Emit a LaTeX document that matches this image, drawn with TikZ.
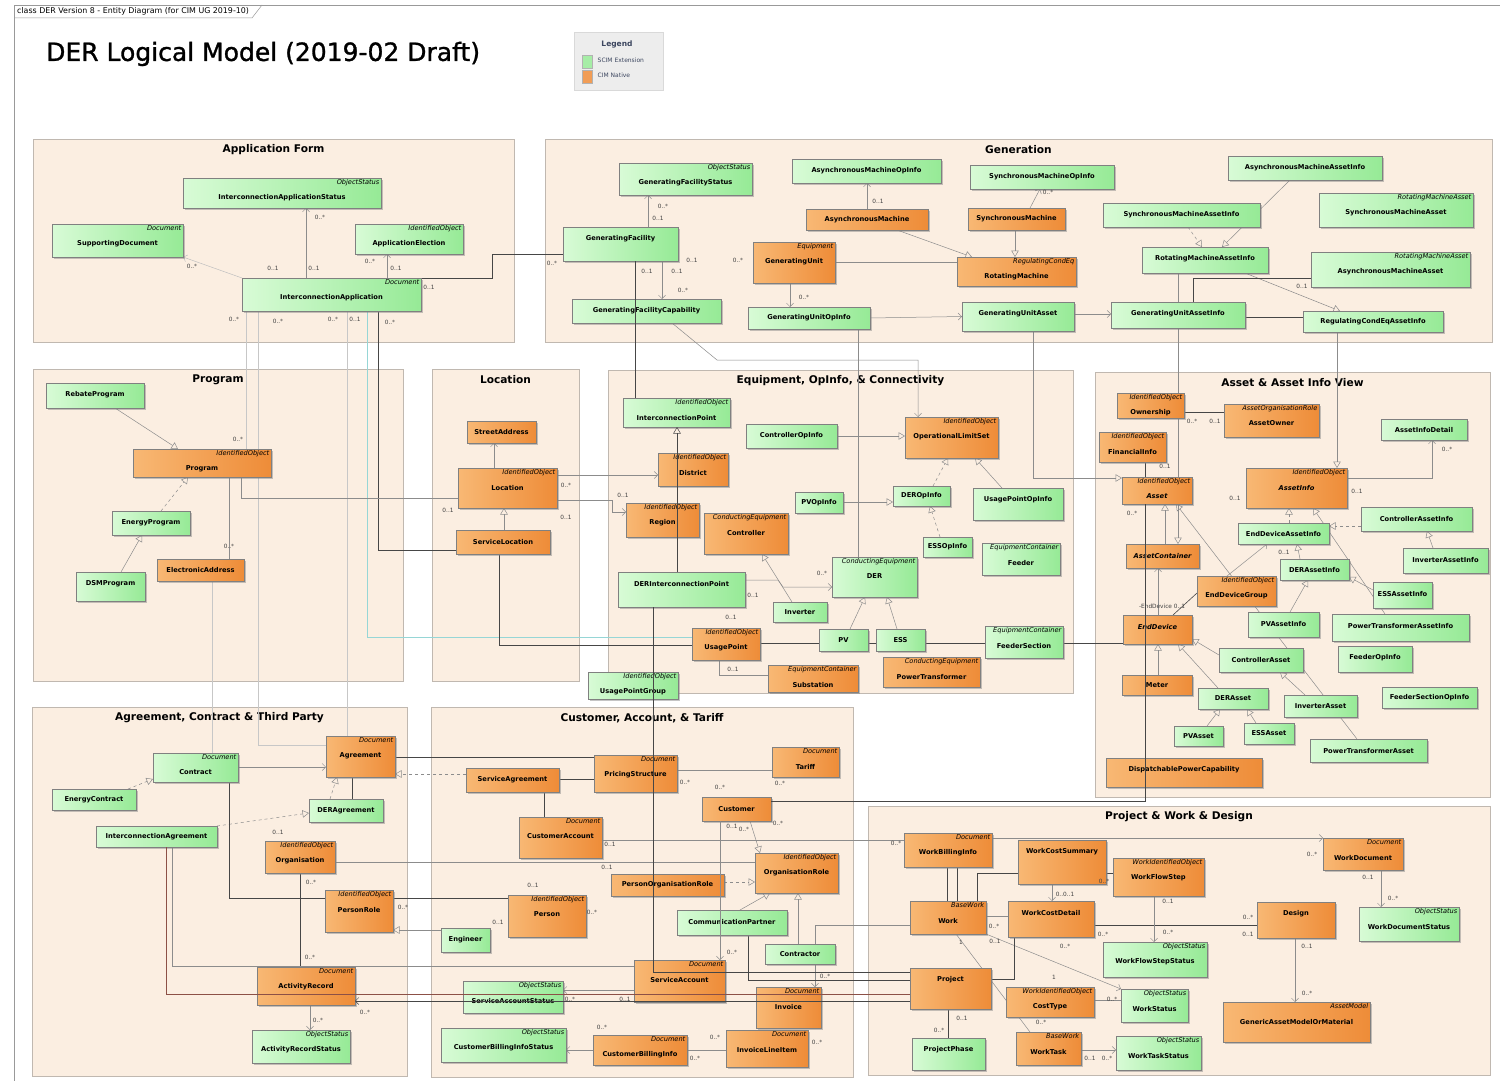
\documentclass[tikz,border=0pt]{standalone}
\usepackage{fontspec}
\setmainfont{DejaVu Sans}
\newfontfamily\heavytitle[FakeBold=1.2]{DejaVu Sans}
\usetikzlibrary{arrows.meta,shadows}
\pgfdeclarelayer{bg}\pgfdeclarelayer{wires}\pgfdeclarelayer{front}
\pgfsetlayers{bg,wires,main,front}

\definecolor{pkgfill}{RGB}{251,238,225}
\definecolor{pkgline}{RGB}{192,184,176}
\definecolor{gL}{RGB}{216,251,214}
\definecolor{gR}{RGB}{150,234,150}
\definecolor{oL}{RGB}{248,184,116}
\definecolor{oR}{RGB}{238,140,56}
\definecolor{wiregray}{RGB}{140,140,140}
\definecolor{wiredark}{RGB}{70,70,70}
\definecolor{wirecyan}{RGB}{150,214,214}
\definecolor{wirebrown}{RGB}{140,80,70}
\definecolor{legtext}{RGB}{60,70,95}

\tikzset{
  pkg/.style={draw=pkgline, fill=pkgfill, line width=0.6pt, inner sep=0pt, outer sep=0pt},
  pkgt/.style={font=\fontsize{10.6}{12}\selectfont\bfseries, inner sep=0pt},
  clsbox/.style={draw=black!50, line width=0.4pt, inner sep=0pt, outer sep=0pt,
    drop shadow={shadow xshift=1.6pt, shadow yshift=-1.6pt, opacity=0.45}},
  gcls/.style={clsbox, left color=gL, right color=gR},
  ocls/.style={clsbox, left color=oL, right color=oR},
  ntxt/.style={font=\fontsize{6.7}{8}\selectfont\bfseries, inner sep=0pt},
  ptxt/.style={font=\fontsize{6.6}{7}\selectfont\itshape, inner sep=0.5pt, anchor=north east},
  mlab/.style={font=\fontsize{5.8}{7}\selectfont, text=black!75, inner sep=0pt},
  cn/.style={draw=wiregray, line width=0.5pt},
  dk/.style={draw=wiredark, line width=0.6pt},
  faint/.style={draw=black!22, line width=0.5pt},
  cyw/.style={draw=wirecyan, line width=0.8pt},
  brw/.style={draw=wirebrown, line width=0.6pt},
  genl/.style={cn, -{Triangle[open, length=6.5pt, width=7.5pt]}},
  realz/.style={genl, dashed},
  navg/.style={cn, -{Straight Barb[length=3.5pt, width=7pt]}},
}

% class box: name, style, x1, y1, x2, y2, stereotype parent, class name
\newcommand\umlcls[8]{%
  \pgfmathsetmacro\umlcx{((#3)+(#5))/2}%
  \pgfmathsetmacro\umlcy{((#4)+(#6))/2}%
  \node[#2, minimum width={(#5)-(#3)}, minimum height={(#6)-(#4)}] (#1) at (\umlcx,\umlcy) {};
  \if\relax\detokenize{#7}\relax
    \pgfmathsetmacro\umlny{min(\umlcy,(#4)+12)}%
  \else
    \pgfmathsetmacro\umlny{(#4)+19.5}%
    \node[ptxt] (#1-p) at ([xshift=-1pt,yshift=-1pt]#1.north east) {#7};
  \fi
  \node[ntxt] (#1-n) at (\umlcx,\umlny) {#8};
}
% package frame: name, x1, y1, x2, y2, title
\newcommand\umlpkg[6]{%
  \node[pkg, minimum width={(#4)-(#2)}, minimum height={(#5)-(#3)}, anchor=north west] (#1) at (#2,#3) {};
  \node[pkgt] (#1-t) at ({((#2)+(#4))/2},{(#3)+11}) {#6};
}

\begin{document}
\begin{tikzpicture}[x=1pt,y=-1pt]
\begin{pgfonlayer}{bg}
  \fill[white] (0,0) rectangle (1504,1081);
  \useasboundingbox (0,0) rectangle (1504,1081);
  % diagram frame and tab
  \draw[black!40, line width=0.5pt] (14,1081) -- (14,5) -- (1500,5);
  \draw[black!40, line width=0.5pt] (14,18) -- (252,18) -- (262,5);
  \umlpkg{pApp}{33}{139}{514}{342}{Application Form}
  \umlpkg{pGen}{545}{139}{1492}{342}{Generation}
  \umlpkg{pProg}{33}{369}{403}{681}{Program}
  \umlpkg{pLoc}{432}{369}{579}{681}{Location}
  \umlpkg{pEq}{608}{370}{1073}{693}{Equipment, OpInfo, \& Connectivity}
  \umlpkg{pAst}{1095}{372}{1490}{797}{Asset \& Asset Info View}
  \umlpkg{pAgr}{32}{707}{407}{1076}{Agreement, Contract \& Third Party}
  \umlpkg{pCus}{431}{707}{853}{1077}{Customer, Account, \& Tariff}
  \umlpkg{pPrj}{868}{806}{1490}{1075}{Project \& Work \& Design}
\end{pgfonlayer}

\node[font=\fontsize{7.9}{9}\selectfont, anchor=west, inner sep=0pt] (tabtxt) at (17,11.5) {class DER Version 8 - Entity Diagram (for CIM UG 2019-10)};
\node[font=\heavytitle\fontsize{25}{30}\selectfont, anchor=west, inner sep=0pt] (title) at (46,54) {DER Logical Model (2019-02 Draft)};

% legend
\node[draw=black!15, fill=black!7, minimum width=89, minimum height=58, anchor=north west, inner sep=0pt] (leg) at (574,32) {};
\node[font=\fontsize{7.5}{8}\selectfont\bfseries, text=legtext, inner sep=0pt] (legT) at (617,44) {Legend};
\node[draw=black!30, fill=gR!85, minimum width=10pt, minimum height=13pt, inner sep=0pt] (legG) at (587,61.5) {};
\node[font=\fontsize{6}{7}\selectfont, anchor=west, text=legtext, inner sep=0pt] (legGt) at (597.5,60.5) {SCIM Extension};
\node[draw=black!30, fill=oR!85, minimum width=10pt, minimum height=13pt, inner sep=0pt] (legO) at (587,77) {};
\node[font=\fontsize{6}{7}\selectfont, anchor=west, text=legtext, inner sep=0pt] (legOt) at (597.5,75) {CIM Native};

% ---------- Application Form
\umlcls{IAS}{gcls}{183}{178}{381}{208}{ObjectStatus}{InterconnectionApplicationStatus}
\umlcls{SD}{gcls}{52}{224}{183}{257}{Document}{SupportingDocument}
\umlcls{AE}{gcls}{355}{224}{463}{254}{IdentifiedObject}{ApplicationElection}
\umlcls{IA}{gcls}{242}{278}{421}{311}{Document}{InterconnectionApplication}

% ---------- Generation
\umlcls{GFS}{gcls}{619}{163}{752}{195}{ObjectStatus}{GeneratingFacilityStatus}
\umlcls{AMOI}{gcls}{792}{159}{941}{183}{}{AsynchronousMachineOpInfo}
\umlcls{GF}{gcls}{563}{227}{678}{261}{}{GeneratingFacility}
\umlcls{AM}{ocls}{806}{209}{928}{230}{}{AsynchronousMachine}
\umlcls{GU}{ocls}{753}{242}{835}{283}{Equipment}{GeneratingUnit}
\umlcls{GFC}{gcls}{572}{299}{721}{323}{}{GeneratingFacilityCapability}
\umlcls{GUOI}{gcls}{748}{307}{870}{329}{}{GeneratingUnitOpInfo}
\umlcls{SMOI}{gcls}{970}{165}{1114}{189}{}{SynchronousMachineOpInfo}
\umlcls{SM}{ocls}{968}{208}{1065}{230}{}{SynchronousMachine}
\umlcls{RM}{ocls}{957}{257}{1076}{286}{RegulatingCondEq}{RotatingMachine}
\umlcls{GUA}{gcls}{962}{302}{1074}{331}{}{GeneratingUnitAsset}
\umlcls{SMAI}{gcls}{1103}{203}{1260}{227}{}{SynchronousMachineAssetInfo}
\umlcls{AMAI}{gcls}{1228}{156}{1382}{180}{}{AsynchronousMachineAssetInfo}
\umlcls{SMA}{gcls}{1319}{193}{1473}{227}{RotatingMachineAsset}{SynchronousMachineAsset}
\umlcls{RMAI}{gcls}{1142}{247}{1268}{273}{}{RotatingMachineAssetInfo}
\umlcls{AMA}{gcls}{1311}{252}{1470}{287}{RotatingMachineAsset}{AsynchronousMachineAsset}
\umlcls{GUAI}{gcls}{1111}{302}{1245}{328}{}{GeneratingUnitAssetInfo}
\umlcls{RCEAI}{gcls}{1303}{311}{1443}{332}{}{RegulatingCondEqAssetInfo}

% ---------- Program
\umlcls{RP}{gcls}{46}{383}{144}{408}{}{RebateProgram}
\umlcls{Prog}{ocls}{133}{449}{271}{477}{IdentifiedObject}{Program}
\umlcls{EP}{gcls}{112}{511}{190}{535}{}{EnergyProgram}
\umlcls{DSM}{gcls}{76}{572}{145}{601}{}{DSMProgram}
\umlcls{EA}{ocls}{157}{559}{244}{581}{}{ElectronicAddress}

% ---------- Location
\umlcls{StrA}{ocls}{467}{421}{536}{443}{}{StreetAddress}
\umlcls{Loc}{ocls}{458}{468}{557}{508}{IdentifiedObject}{Location}
\umlcls{SL}{ocls}{456}{530}{550}{554}{}{ServiceLocation}

% ---------- Equipment, OpInfo, & Connectivity
\umlcls{IP}{gcls}{623}{398}{730}{427}{IdentifiedObject}{InterconnectionPoint}
\umlcls{Dist}{ocls}{658}{453}{728}{486}{IdentifiedObject}{District}
\umlcls{Reg}{ocls}{626}{503}{699}{537}{IdentifiedObject}{Region}
\umlcls{Ctrl}{ocls}{704}{513}{788}{554}{ConductingEquipment}{Controller}
\umlcls{CtrlOI}{gcls}{746}{424}{837}{448}{}{ControllerOpInfo}
\umlcls{OLS}{ocls}{905}{417}{998}{458}{IdentifiedObject}{OperationalLimitSet}
\umlcls{PVOI}{gcls}{795}{492}{843}{513}{}{PVOpInfo}
\umlcls{DEROI}{gcls}{893}{486}{950}{506}{}{DEROpInfo}
\umlcls{UPOI}{gcls}{973}{488}{1063}{520}{}{UsagePointOpInfo}
\umlcls{ESSOI}{gcls}{923}{537}{972}{557}{}{ESSOpInfo}
\umlcls{Feeder}{gcls}{982}{543}{1060}{575}{EquipmentContainer}{Feeder}
\umlcls{DERIP}{gcls}{618}{572}{745}{607}{}{DERInterconnectionPoint}
\umlcls{DER}{gcls}{832}{557}{917}{597}{ConductingEquipment}{DER}
\umlcls{Inv}{gcls}{773}{602}{827}{622}{}{Inverter}
\umlcls{PV}{gcls}{819}{629}{868}{651}{}{PV}
\umlcls{ESS}{gcls}{876}{629}{925}{651}{}{ESS}
\umlcls{UP}{ocls}{692}{628}{760}{660}{IdentifiedObject}{UsagePoint}
\umlcls{FS}{gcls}{985}{626}{1063}{658}{EquipmentContainer}{FeederSection}
\umlcls{PT}{ocls}{883}{657}{980}{687}{ConductingEquipment}{PowerTransformer}
\umlcls{Sub}{ocls}{768}{665}{858}{692}{EquipmentContainer}{Substation}
\umlcls{UPG}{gcls}{588}{672}{678}{699}{IdentifiedObject}{UsagePointGroup}

% ---------- Asset & Asset Info View
\umlcls{Own}{ocls}{1117}{393}{1184}{418}{IdentifiedObject}{Ownership}
\umlcls{AO}{ocls}{1224}{404}{1319}{437}{AssetOrganisationRole}{AssetOwner}
\umlcls{FI}{ocls}{1099}{432}{1166}{462}{IdentifiedObject}{FinancialInfo}
\umlcls{Asset}{ocls}{1122}{477}{1192}{504}{IdentifiedObject}{\itshape Asset}
\umlcls{AI}{ocls}{1246}{468}{1347}{508}{IdentifiedObject}{\itshape AssetInfo}
\umlcls{AID}{gcls}{1381}{419}{1467}{440}{}{AssetInfoDetail}
\umlcls{AC}{ocls}{1126}{544}{1199}{568}{}{\itshape AssetContainer}
\umlcls{EDAI}{gcls}{1238}{523}{1329}{544}{}{EndDeviceAssetInfo}
\umlcls{CAI}{gcls}{1361}{507}{1472}{531}{}{ControllerAssetInfo}
\umlcls{IAI}{gcls}{1403}{548}{1488}{573}{}{InverterAssetInfo}
\umlcls{DERAI}{gcls}{1280}{559}{1349}{580}{}{DERAssetInfo}
\umlcls{EDG}{ocls}{1197}{576}{1276}{606}{IdentifiedObject}{EndDeviceGroup}
\umlcls{ESSAI}{gcls}{1373}{582}{1432}{608}{}{ESSAssetInfo}
\umlcls{ED}{ocls}{1123}{615}{1192}{644}{}{\itshape EndDevice}
\umlcls{PVAI}{gcls}{1248}{612}{1319}{637}{}{PVAssetInfo}
\umlcls{PTAI}{gcls}{1332}{614}{1469}{641}{}{PowerTransformerAssetInfo}
\umlcls{CtA}{gcls}{1219}{648}{1303}{672}{}{ControllerAsset}
\umlcls{FOI}{gcls}{1338}{646}{1412}{672}{}{FeederOpInfo}
\umlcls{Meter}{ocls}{1122}{675}{1192}{695}{}{Meter}
\umlcls{DERAs}{gcls}{1198}{688}{1268}{709}{}{DERAsset}
\umlcls{InvA}{gcls}{1284}{695}{1357}{717}{}{InverterAsset}
\umlcls{FSOI}{gcls}{1382}{687}{1477}{708}{}{FeederSectionOpInfo}
\umlcls{PVA}{gcls}{1174}{726}{1223}{746}{}{PVAsset}
\umlcls{ESSA}{gcls}{1244}{723}{1294}{744}{}{ESSAsset}
\umlcls{PTA}{gcls}{1310}{739}{1427}{762}{}{PowerTransformerAsset}
\umlcls{DPC}{ocls}{1106}{758}{1262}{787}{}{DispatchablePowerCapability}

% ---------- Agreement, Contract & Third Party
\umlcls{Contract}{gcls}{153}{753}{238}{782}{Document}{Contract}
\umlcls{EC}{gcls}{52}{789}{136}{810}{}{EnergyContract}
\umlcls{Agr}{ocls}{326}{736}{395}{777}{Document}{Agreement}
\umlcls{DERA}{gcls}{309}{799}{383}{822}{}{DERAgreement}
\umlcls{IAgr}{gcls}{96}{826}{217}{847}{}{InterconnectionAgreement}
\umlcls{Org}{ocls}{265}{841}{335}{873}{IdentifiedObject}{Organisation}
\umlcls{PR}{ocls}{325}{890}{393}{932}{IdentifiedObject}{PersonRole}
\umlcls{AR}{ocls}{257}{967}{355}{1005}{Document}{ActivityRecord}
\umlcls{ARS}{gcls}{252}{1030}{350}{1063}{ObjectStatus}{ActivityRecordStatus}

% ---------- Customer, Account, & Tariff
\umlcls{SAg}{ocls}{466}{768}{559}{792}{}{ServiceAgreement}
\umlcls{PS}{ocls}{594}{755}{677}{792}{Document}{PricingStructure}
\umlcls{Tar}{ocls}{772}{747}{839}{777}{Document}{Tariff}
\umlcls{Cust}{ocls}{702}{797}{771}{821}{}{Customer}
\umlcls{CA}{ocls}{519}{817}{602}{858}{Document}{CustomerAccount}
\umlcls{OrgR}{ocls}{755}{853}{838}{893}{IdentifiedObject}{OrganisationRole}
\umlcls{POR}{ocls}{611}{874}{724}{896}{}{PersonOrganisationRole}
\umlcls{Person}{ocls}{508}{895}{586}{937}{IdentifiedObject}{Person}
\umlcls{CP}{gcls}{677}{910}{787}{935}{}{CommunicationPartner}
\umlcls{Eng}{gcls}{441}{928}{490}{952}{}{Engineer}
\umlcls{Contr}{gcls}{765}{944}{835}{964}{}{Contractor}
\umlcls{SAcc}{ocls}{634}{960}{725}{1002}{Document}{ServiceAccount}
\umlcls{SAS}{gcls}{463}{981}{563}{1013}{ObjectStatus}{ServiceAccountStatus}
\umlcls{Invc}{ocls}{756}{987}{821}{1028}{Document}{Invoice}
\umlcls{CBIS}{gcls}{441}{1028}{566}{1062}{ObjectStatus}{CustomerBillingInfoStatus}
\umlcls{CBI}{ocls}{593}{1035}{687}{1065}{Document}{CustomerBillingInfo}
\umlcls{ILI}{ocls}{726}{1030}{808}{1067}{Document}{InvoiceLineItem}

% ---------- Project & Work & Design
\umlcls{WBI}{ocls}{904}{833}{992}{867}{Document}{WorkBillingInfo}
\umlcls{WCS}{ocls}{1018}{840}{1106}{884}{}{WorkCostSummary}
\umlcls{WFS}{ocls}{1113}{858}{1204}{896}{WorkIdentifiedObject}{WorkFlowStep}
\umlcls{WD}{ocls}{1323}{838}{1403}{870}{Document}{WorkDocument}
\umlcls{Work}{ocls}{910}{901}{986}{934}{BaseWork}{Work}
\umlcls{WCD}{ocls}{1008}{901}{1094}{937}{}{WorkCostDetail}
\umlcls{Des}{ocls}{1257}{902}{1335}{938}{}{Design}
\umlcls{WDS}{gcls}{1359}{907}{1459}{941}{ObjectStatus}{WorkDocumentStatus}
\umlcls{WFSS}{gcls}{1103}{942}{1207}{977}{ObjectStatus}{WorkFlowStepStatus}
\umlcls{Proj}{ocls}{910}{968}{991}{1009}{}{Project}
\umlcls{CT}{ocls}{1006}{987}{1094}{1017}{WorkIdentifiedObject}{CostType}
\umlcls{WS}{gcls}{1121}{989}{1188}{1022}{ObjectStatus}{WorkStatus}
\umlcls{GAMM}{ocls}{1223}{1002}{1370}{1042}{AssetModel}{GenericAssetModelOrMaterial}
\umlcls{PP}{gcls}{912}{1038}{985}{1070}{}{ProjectPhase}
\umlcls{WT}{ocls}{1016}{1032}{1081}{1065}{BaseWork}{WorkTask}
\umlcls{WTS}{gcls}{1116}{1036}{1201}{1070}{ObjectStatus}{WorkTaskStatus}

% ---------- connectors drawn behind the classes
\begin{pgfonlayer}{wires}
  % application form
  \draw[navg] (306,0 |- IA.north) -- (306,0 |- IAS.south);
  \draw[navg] (387,0 |- IA.north) -- (387,0 |- AE.south);
  \draw[navg, draw=black!25] (IA.north west) -- (SD.south east);
  \draw[dk] (IA.north east) -- (492,278) -- (492,254) -- (GF.west |- 0,254);
  \draw[faint] (246,0 |- IA.south) -- (246,0 |- Prog.north);
  \draw[faint] (258,0 |- IA.south) -- (258,745) -- (Agr.west |- 0,745);
  \draw[faint] (347,0 |- IA.south) -- (347,0 |- Agr.north);
  \draw[cyw] (367,0 |- IA.south) -- (367,637) -- (UP.west |- 0,637);
  \draw[dk] (378,0 |- IA.south) -- (378,550) -- (SL.west |- 0,550);
  % generation
  \draw[navg] (648,0 |- GF.north) -- (648,0 |- GFS.south);
  \draw[navg] (662,0 |- GF.south) -- (662,0 |- GFC.north);
  \draw[navg] (867,0 |- AM.north) -- (867,0 |- AMOI.south);
  \draw[navg] (790,0 |- GU.south) -- (790,0 |- GUOI.north);
  \draw[genl] (897,0 |- AM.south) -- (972,0 |- RM.north);
  \draw[cn] (GU.east) -- (RM.west |- GU.east);
  \draw[navg] (GUOI.east) -- (GUA.west);
  \draw[genl] (1015,0 |- SM.south) -- (1015,0 |- RM.north);
  \draw[navg] (1030,0 |- SM.north) -- (1040,0 |- SMOI.south);
  \draw[realz] (1188,0 |- SMAI.south) -- (1202,0 |- RMAI.north);
  \draw[genl] (1290,0 |- AMAI.south) -- (1222,0 |- RMAI.north);
  \draw[genl] (1245,0 |- RMAI.south) -- (1340,0 |- RCEAI.north);
  \draw[dk] (AMA.west |- 0,278) -- (1193,278) -- (1193,0 |- GUAI.north);
  \draw[dk] (GUAI.east |- 0,317) -- (RCEAI.west |- 0,317);
  \draw[navg] (GUA.east |- 0,314) -- (GUAI.west |- 0,314);
  \draw[navg] (672,0 |- GFC.south) -- (717,360) -- (918,360) -- (918,0 |- OLS.north);
  \draw[cn] (858,0 |- GUOI.south) -- (858,0 |- DER.north);
  \draw[genl] (1178,0 |- RMAI.south) -- (1178,0 |- AC.north);
  \draw[genl] (1337,0 |- RCEAI.south) -- (1337,0 |- AI.north);
  \draw[genl] (1033,0 |- GUA.south) -- (1033,478) -- (Asset.west |- 0,478);
  % program and location
  \draw[genl] (115,0 |- RP.south) -- (178,0 |- Prog.north);
  \draw[realz] (161,0 |- EP.north) -- (188,0 |- Prog.south);
  \draw[genl] (121,0 |- DSM.north) -- (142,0 |- EP.south);
  \draw[cn] (229,0 |- EA.north) -- (229,0 |- Prog.south);
  \draw[faint] (212,0 |- EA.south) -- (212,0 |- Contract.north);
  \draw[cn] (241,0 |- Prog.south) -- (241,498) -- (Loc.west |- 0,498);
  \draw[navg] (494,0 |- Loc.north) -- (494,0 |- StrA.south);
  \draw[genl] (504,0 |- SL.north) -- (504,0 |- Loc.south);
  \draw[navg] (Loc.east |- 0,475) -- (Dist.west |- 0,475);
  \draw[navg] (Loc.east |- 0,500) -- (612,500) -- (612,512) -- (Reg.west |- 0,512);
  \draw[dk] (499,0 |- SL.south) -- (499,645) -- (UP.west |- 0,645);
  % equipment
  \draw[genl] (CtrlOI.east |- 0,436) -- (OLS.west |- 0,436);
  \draw[genl] (PVOI.east |- 0,502) -- (DEROI.west |- 0,502);
  \draw[realz] (933,0 |- DEROI.north) -- (948,0 |- OLS.south);
  \draw[genl] (1002,0 |- UPOI.north) -- (975,0 |- OLS.south);
  \draw[realz] (940,0 |- ESSOI.north) -- (930,0 |- DEROI.south);
  \draw[genl] (792,0 |- Inv.north) -- (762,0 |- Ctrl.south);
  \draw[navg] (DERIP.east |- 0,580) -- (778,580) -- (783,587) -- (DER.west |- 0,587);
  \draw[genl] (850,0 |- PV.north) -- (865,0 |- DER.south);
  \draw[genl] (897,0 |- ESS.north) -- (887,0 |- DER.south);
  \draw[dk] (UP.east |- 0,643) -- (ED.west |- 0,643);
  \draw[cn] (719,0 |- UP.south) -- (719,675) -- (Sub.west |- 0,675);
  % asset and asset info
  \draw[dk] (Own.east |- 0,412) -- (AO.west |- 0,412);
  \draw[dk] (1145,0 |- FI.south) -- (1145,0 |- Asset.north);
  \draw[navg] (AI.east |- 0,478) -- (1432,478) -- (1432,0 |- AID.south);
  \draw[realz] (1289,0 |- EDAI.north) -- (1289,0 |- AI.south);
  \draw[realz] (CAI.west |- 0,526) -- (EDAI.east |- 0,526);
  \draw[genl] (1433,0 |- IAI.north) -- (1427,0 |- CAI.south);
  \draw[genl] (1300,0 |- DERAI.north) -- (1297,0 |- EDAI.south);
  \draw[genl] (ESSAI.west |- 0,590) -- (DERAI.east |- 0,577);
  \draw[genl] (1385,0 |- PTAI.north) -- (1313,0 |- AI.south);
  \draw[genl] (1290,0 |- PVAI.north) -- (1308,0 |- DERAI.south);
  \draw[navg] (1227,0 |- EDG.north) -- (1267,0 |- EDAI.south);
  \draw[dk] (1173,0 |- ED.north) -- (EDG.west |- 0,593);
  \draw[navg] (1158,0 |- ED.north) -- (1158,0 |- AC.south);
  \draw[genl] (1165,0 |- AC.north) -- (1165,0 |- Asset.south);
  \draw[genl] (1158,0 |- Meter.north) -- (1158,0 |- ED.south);
  \draw[genl] (CtA.west |- 0,655) -- (ED.east |- 0,639);
  \draw[genl] (1218,0 |- DERAs.north) -- (1178,0 |- ED.south);
  \draw[genl] (1207,0 |- PVA.north) -- (1220,0 |- DERAs.south);
  \draw[genl] (1256,0 |- ESSA.north) -- (1247,0 |- DERAs.south);
  \draw[genl] (1305,0 |- InvA.north) -- (1280,0 |- CtA.south);
  \draw[genl] (1357,0 |- PTA.north) -- (1176,0 |- Asset.south);
  % agreement
  \draw[realz] (128,0 |- EC.north) -- (Contract.west |- 0,779);
  \draw[navg] (Contract.east |- 0,767) -- (Agr.west |- 0,767);
  \draw[realz] (330,0 |- DERA.north) -- (337,0 |- Agr.south);
  \draw[dk] (352,0 |- Agr.south) -- (352,0 |- DERA.north);
  \draw[realz] (IAgr.north east) -- (DERA.west |- 0,813);
  \draw[dk] (300,0 |- Org.south) -- (300,0 |- AR.north);
  \draw[dk] (229,0 |- Contract.south) -- (229,898) -- (Person.west |- 0,898);
  \draw[cn] (172,0 |- IAgr.south) -- (172,966) -- (SAcc.west |- 0,966);
  \draw[navg] (310,0 |- AR.south) -- (310,0 |- ARS.north);
  \draw[dk] (Agr.east |- 0,757) -- (PS.west |- 0,757);
  \draw[cn] (Org.east |- 0,862) -- (OrgR.west |- 0,862);
  \draw[genl] (Eng.west |- 0,930) -- (PR.east |- 0,930);
  % customer
  \draw[dk] (SAg.east |- 0,779) -- (PS.west |- 0,779);
  \draw[dk] (544,0 |- SAg.south) -- (544,0 |- CA.north);
  \draw[realz] (SAg.west |- 0,774) -- (Agr.east |- 0,774);
  \draw[cn] (PS.east |- 0,770) -- (Tar.west |- 0,770);
  \draw[genl] (750,0 |- Cust.south) -- (760,0 |- OrgR.north);
  \draw[cn] (CA.east |- 0,840) -- (WBI.west |- 0,840);
  \draw[realz] (POR.east |- 0,882) -- (OrgR.west |- 0,882);
  \draw[genl] (740,0 |- CP.north) -- (770,0 |- OrgR.south);
  \draw[genl] (798,0 |- Contr.north) -- (798,0 |- OrgR.south);
  \draw[navg] (SAcc.west |- 0,990) -- (SAS.east |- 0,990);
  \draw[navg] (CBI.west |- 0,1050) -- (CBIS.east |- 0,1050);
  \draw[cn] (ILI.west |- 0,1050) -- (CBI.east |- 0,1050);
  \draw[navg] (Work.west |- 0,925) -- (815,925) -- (815,0 |- Invc.north);
  \draw[dk] (748,0 |- CP.south) -- (748,980) -- (Proj.west |- 0,980);
  % project, work and design
  \draw[dk] (947,0 |- WBI.south) -- (947,0 |- Work.north);
  \draw[dk] (957,0 |- WBI.south) -- (957,0 |- Work.north);
  \draw[dk] (WFS.west |- 0,873) -- (977,873) -- (977,0 |- Work.north);
  \draw[navg] (1052,0 |- WCS.south) -- (1052,0 |- WCD.north);
  \draw[dk] (WCD.east |- 0,925) -- (Des.west |- 0,925);
  \draw[cn] (Work.east |- 0,916) -- (WCD.west |- 0,916);
  \draw[navg] (Work.south east) -- (WS.north west);
  \draw[cn] (956,0 |- Work.south) -- (1030,0 |- WT.north);
  \draw[dk] (1014,0 |- WCD.south) -- (1014,979) -- (Proj.east |- 0,979);
  \draw[navg] (1154,0 |- WFS.south) -- (1154,0 |- WFSS.north);
  \draw[navg] (1381,0 |- WD.south) -- (1381,0 |- WDS.north);
  \draw[navg] (1295,0 |- Des.south) -- (1295,0 |- GAMM.north);
  \draw[navg] (WBI.east |- 0,838) -- (WD.west |- 0,838);
  \draw[dk] (948,0 |- Proj.south) -- (948,0 |- PP.north);
  \draw[navg] (WT.east |- 0,1050) -- (WTS.west |- 0,1050);
  \draw[cn] (CT.east |- 0,1000) -- (WS.west |- 0,1000);
\end{pgfonlayer}

% ---------- long connectors that run over the classes
\begin{pgfonlayer}{front}
  \draw[dk] (635,0 |- GF.south) -- (635,0 |- IP.north);
  \draw[genl, draw=wiredark] (677,0 |- DERIP.north) -- (677,0 |- IP.south);
  \draw[dk] (653,0 |- DERIP.south) -- (653,972) -- (Proj.west |- 0,972);
  \draw[navg] (720,0 |- Cust.south) -- (720,0 |- SAcc.north);
  \draw[dk] (1145,0 |- Asset.south) -- (1145,801) -- (Cust.east |- 0,801);
  \draw[brw] (166,0 |- IAgr.south) -- (166,994) -- (Proj.west |- 0,994);
  \draw[navg, draw=wiredark] (Proj.west |- 0,1001) -- (AR.east |- 0,1001);
\end{pgfonlayer}

% ---------- multiplicities and role names
\foreach \px/\py/\tx [count=\i] in {
  320/217/0..*, 192/266/0..*, 273/268/0..1, 314/268/0..1, 370/261/0..*, 396/268/0..1,
  429/287/0..1, 234/319/0..*, 278/321/0..*, 333/319/0..*, 355/319/0..1, 390/322/0..*,
  663/206/0..*, 658/218/0..1, 552/263/0..*, 647/271/0..1, 677/271/0..1, 692/260/0..1,
  683/290/0..*, 738/260/0..*, 804/297/0..*, 878/201/0..1, 1048/192/0..*, 1302/286/0..1,
  238/439/0..*, 229/546/0..*, 566/485/0..*, 448/510/0..1, 566/517/0..1,
  623/495/0..1, 822/573/0..*, 753/595/0..1, 731/617/0..1, 733/669/0..1,
  1192/421/0..*, 1215/421/0..1, 1165/466/0..1, 1132/513/0..*, 1235/498/0..1,
  1357/491/0..1, 1447/449/0..*, 1284/552/0..1, 1162/606/-EndDevice 0..1,
  278/832/0..1, 311/882/0..*, 403/907/0..*, 310/957/0..*, 365/1012/0..*, 318/1020/0..*,
  685/782/0..*, 720/787/0..*, 780/783/0..*, 732/826/0..1, 744/829/0..*, 778/823/0..*,
  610/844/0..1, 607/867/0..1, 533/885/0..1, 592/912/0..*, 498/922/0..1, 732/952/0..*,
  825/976/0..*, 570/999/0..*, 625/999/0..1, 602/1027/0..*, 715/1037/0..*, 817/1042/0..*,
  695/1058/0..*,
  896/843/0..*, 1104/881/0..*, 1065/894/0..0..1, 1168/901/0..1, 1312/854/0..*,
  1368/877/0..1, 1393/898/0..*, 994/926/0..*, 995/941/0..1, 1103/934/0..*, 1168/932/0..*,
  1248/917/0..*, 1248/934/0..1, 1065/946/0..*, 1307/946/0..1, 961/942/1, 1054/977/1,
  1112/999/0..*, 1307/993/0..*, 962/1018/0..1, 939/1030/0..*, 1041/1022/0..*,
  1090/1058/0..1, 1107/1058/0..*}
  \node[mlab] (m\i) at (\px,\py) {\tx};
\end{tikzpicture}
\end{document}
